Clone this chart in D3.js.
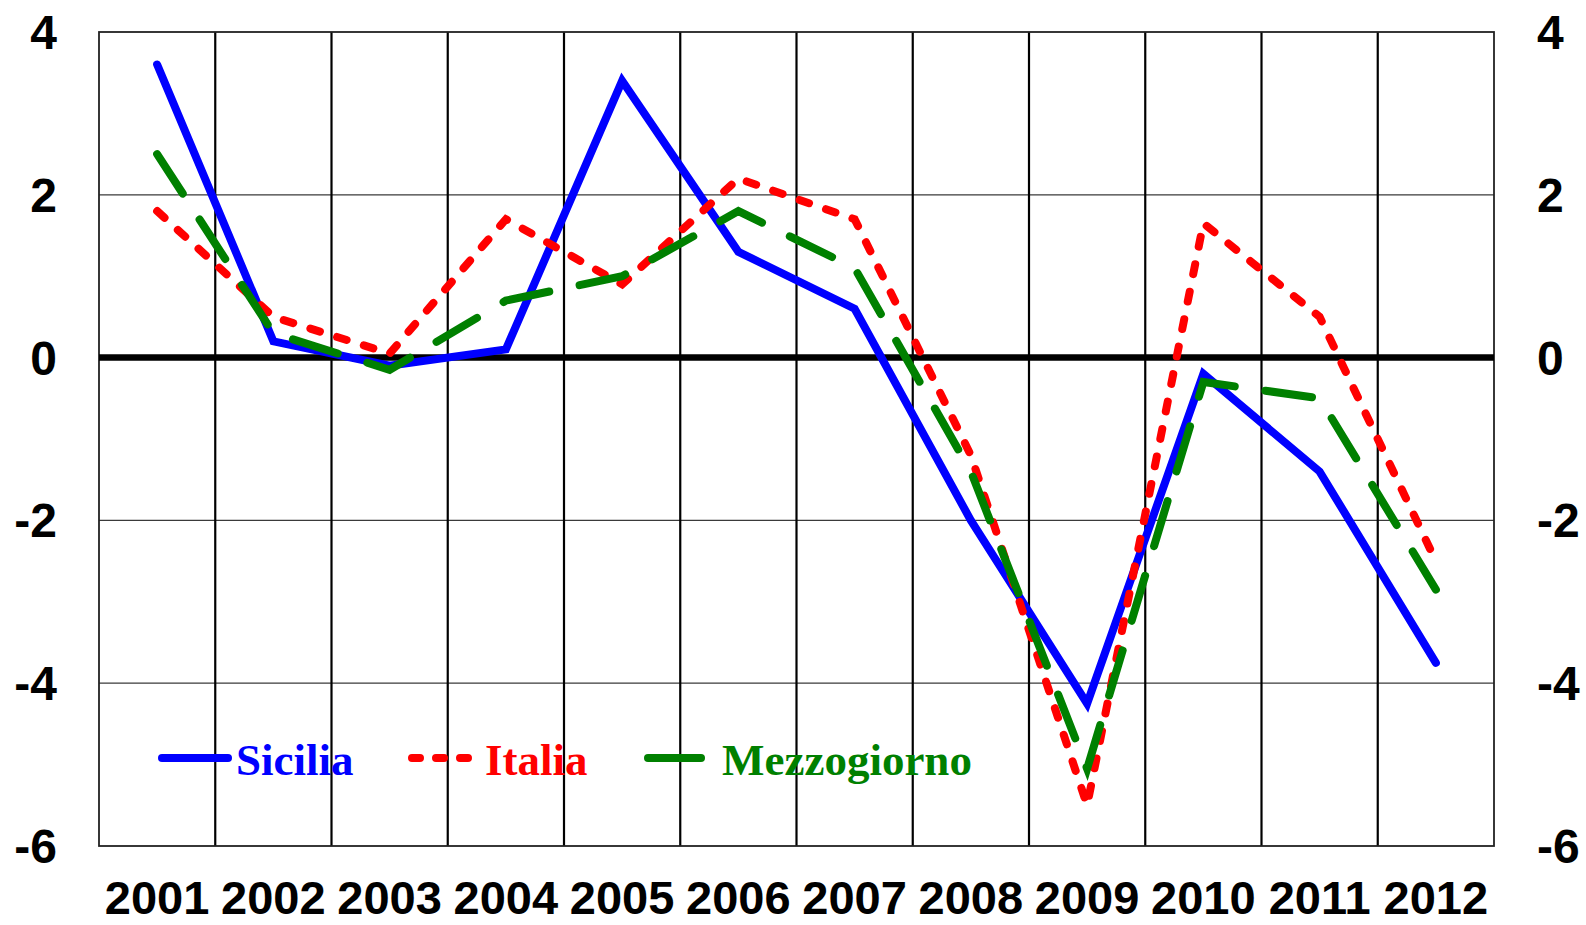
<!DOCTYPE html>
<html>
<head>
<meta charset="utf-8">
<script src="https://cdn.jsdelivr.net/npm/d3@7"></script>
<style>
	body { margin: 0; background: #fff; }
	svg { display: block; }
</style>
</head>
<body>
<script>
	// DATA
	const years = ['2001', '2002', '2003', '2004', '2005', '2006', '2007', '2008', '2009', '2010', '2011', '2012'];
	const sicilia = [3.6, 0.2, -0.1, 0.1, 3.4, 1.3, 0.6, -2.0, -4.25, -0.2, -1.4, -3.75];
	const italia = [1.8, 0.5, 0.05, 1.7, 0.9, 2.2, 1.7, -1.2, -5.5, 1.65, 0.5, -2.5];
	const mezzogiorno = [2.5, 0.3, -0.15, 0.7, 1.0, 1.8, 1.1, -1.4, -5.05, -0.3, -0.5, -2.85];
	const yTicks = [4, 2, 0, -2, -4, -6];
	const seriesNames = ['Sicilia', 'Italia', 'Mezzogiorno'];

	// CONFIGURATION
	const width = 1586;
	const height = 925;
	const plot = { left: 99, right: 1494, top: 32, bottom: 846 };

	const series = [
		{ name: seriesNames[0], values: sicilia, color: '#0000ff', dash: null },
		{ name: seriesNames[1], values: italia, color: '#ff0000', dash: '10,18' },
		{ name: seriesNames[2], values: mezzogiorno, color: '#008000', dash: '47,31' }
	];

	const svg = d3.select('body')
		.append('svg')
		.attr('width', width)
		.attr('height', height);

	// SCALES
	const xScale = d3.scaleBand()
		.domain(years)
		.range([plot.left, plot.right])
		.padding(0);
	const xCenter = year => xScale(year) + xScale.bandwidth() / 2;

	const yScale = d3.scaleLinear()
		.domain([-6, 4])
		.range([plot.bottom, plot.top]);

	// GRID
	svg.append('g')
		.selectAll('line')
		.data(yTicks.filter(t => t !== 0 && t !== 4 && t !== -6))
		.enter()
		.append('line')
		.attr('x1', plot.left)
		.attr('x2', plot.right)
		.attr('y1', d => yScale(d))
		.attr('y2', d => yScale(d))
		.attr('stroke', '#3a3a3a')
		.attr('stroke-width', 1.2);

	svg.append('g')
		.selectAll('line')
		.data(years.slice(1))
		.enter()
		.append('line')
		.attr('x1', d => xScale(d))
		.attr('x2', d => xScale(d))
		.attr('y1', plot.top)
		.attr('y2', plot.bottom)
		.attr('stroke', '#000')
		.attr('stroke-width', 2.2);

	// BORDER
	svg.append('rect')
		.attr('x', plot.left)
		.attr('y', plot.top)
		.attr('width', plot.right - plot.left)
		.attr('height', plot.bottom - plot.top)
		.attr('fill', 'none')
		.attr('stroke', '#222')
		.attr('stroke-width', 1.8);

	// ZERO LINE
	svg.append('line')
		.attr('x1', plot.left)
		.attr('x2', plot.right)
		.attr('y1', yScale(0))
		.attr('y2', yScale(0))
		.attr('stroke', '#000')
		.attr('stroke-width', 6.5);

	// AXIS LABELS
	const axisFont = '"Liberation Sans", Arial, sans-serif';
	const yLabels = svg.append('g')
		.attr('font-family', axisFont)
		.attr('font-weight', 'bold')
		.attr('font-size', 48);
	yLabels.selectAll('text.left')
		.data(yTicks)
		.enter()
		.append('text')
		.attr('class', 'left')
		.attr('x', 57)
		.attr('y', d => yScale(d) + 17)
		.attr('text-anchor', 'end')
		.text(d => d);
	yLabels.selectAll('text.right')
		.data(yTicks)
		.enter()
		.append('text')
		.attr('class', 'right')
		.attr('x', 1537)
		.attr('y', d => yScale(d) + 17)
		.attr('text-anchor', 'start')
		.text(d => d);

	svg.append('g')
		.attr('font-family', axisFont)
		.attr('font-weight', 'bold')
		.attr('font-size', 47)
		.selectAll('text')
		.data(years)
		.enter()
		.append('text')
		.attr('x', d => xCenter(d))
		.attr('y', 914)
		.attr('text-anchor', 'middle')
		.text(d => d);

	// LINES
	const line = d3.line()
		.x((d, i) => xCenter(years[i]))
		.y(d => yScale(d));

	series.forEach(s => {
		svg.append('path')
			.datum(s.values)
			.attr('d', line)
			.attr('fill', 'none')
			.attr('stroke', s.color)
			.attr('stroke-width', 8)
			.attr('stroke-linecap', 'round')
			.attr('stroke-linejoin', 'miter')
			.attr('stroke-dasharray', s.dash);
	});

	// LEGEND
	const legendItems = [
		{ s: series[0], x1: 162, x2: 228, tx: 236 },
		{ s: series[1], x1: 412, x2: 482, tx: 485 },
		{ s: series[2], x1: 648, x2: 701, tx: 722 }
	];
	const legendY = 758;
	const legend = svg.append('g');
	legend.selectAll('line')
		.data(legendItems)
		.enter()
		.append('line')
		.attr('x1', d => d.x1)
		.attr('x2', d => d.x2)
		.attr('y1', legendY)
		.attr('y2', legendY)
		.attr('stroke', d => d.s.color)
		.attr('stroke-width', 8)
		.attr('stroke-linecap', 'round')
		.attr('stroke-dasharray', d => d.s.name === 'Italia' ? '8,16' : null);
	legend.selectAll('text')
		.data(legendItems)
		.enter()
		.append('text')
		.attr('x', d => d.tx)
		.attr('y', 775)
		.attr('font-family', '"Liberation Serif", "Times New Roman", serif')
		.attr('font-weight', 'bold')
		.attr('font-size', 45)
		.attr('fill', d => d.s.color)
		.text(d => d.s.name);
</script>
</body>
</html>
